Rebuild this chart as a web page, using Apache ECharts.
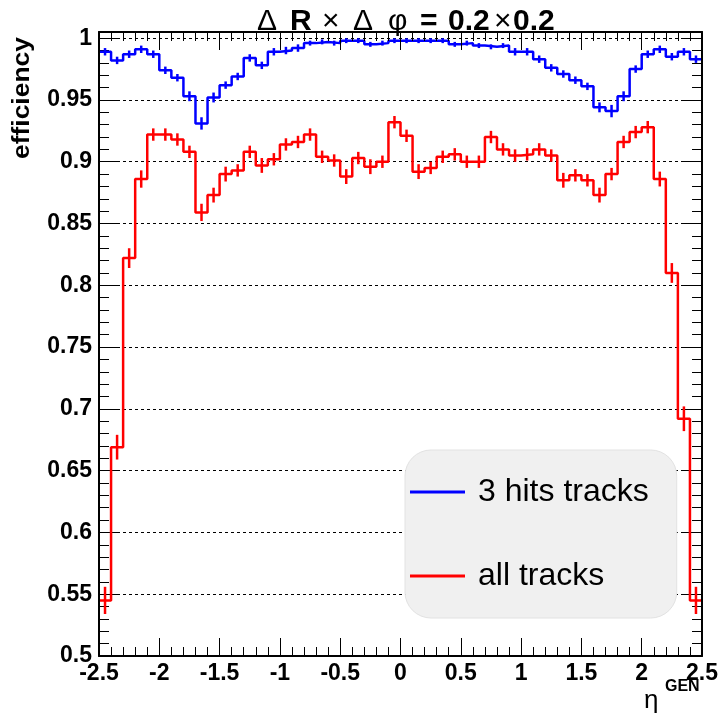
<!DOCTYPE html>
<html>
<head>
<meta charset="utf-8">
<script src="https://cdn.jsdelivr.net/npm/echarts@6/dist/echarts.min.js"></script>
<style>
  html, body { margin: 0; padding: 0; background: #ffffff; }
  #chart { width: 723px; height: 716px; }
</style>
</head>
<body>
<div id="chart"></div>
<script>
// Binning in eta: 50 bins of width 0.1 from -2.5 to 2.5
const etaLow = -2.5;
const etaBinWidth = 0.1;

// Efficiency per eta bin, tracks with 3 pixel hits
const hits3Eff = [
  0.989, 0.982, 0.987, 0.991, 0.987, 0.974, 0.968, 0.953, 0.931, 0.952,
  0.962, 0.969, 0.984, 0.978, 0.989, 0.990, 0.992, 0.996, 0.997, 0.996,
  0.998, 0.998, 0.995, 0.996, 0.998, 0.998, 0.998, 0.998, 0.998, 0.995,
  0.996, 0.994, 0.993, 0.994, 0.989, 0.989, 0.983, 0.976, 0.971, 0.966,
  0.961, 0.944, 0.941, 0.953, 0.975, 0.987, 0.991, 0.985, 0.989, 0.983
];
const hits3Err = [
  0.003, 0.003, 0.003, 0.003, 0.003, 0.003, 0.003, 0.004, 0.005, 0.004,
  0.003, 0.003, 0.003, 0.003, 0.003, 0.003, 0.003, 0.002, 0.002, 0.002,
  0.002, 0.002, 0.002, 0.002, 0.002, 0.002, 0.002, 0.002, 0.002, 0.002,
  0.002, 0.002, 0.002, 0.002, 0.003, 0.003, 0.003, 0.003, 0.003, 0.003,
  0.003, 0.004, 0.005, 0.004, 0.003, 0.003, 0.003, 0.003, 0.003, 0.003
];

// Efficiency per eta bin, all tracks
const allEff = [
  0.545, 0.669, 0.822, 0.886, 0.922, 0.922, 0.918, 0.908, 0.859, 0.873,
  0.890, 0.893, 0.908, 0.897, 0.902, 0.914, 0.916, 0.922, 0.904, 0.901,
  0.888, 0.903, 0.896, 0.900, 0.932, 0.921, 0.892, 0.895, 0.904, 0.906,
  0.900, 0.900, 0.920, 0.910, 0.905, 0.906, 0.910, 0.905, 0.885, 0.889,
  0.885, 0.873, 0.890, 0.916, 0.924, 0.928, 0.886, 0.810, 0.692, 0.545
];
const allErr = [
  0.011, 0.010, 0.008, 0.007, 0.005, 0.005, 0.005, 0.005, 0.007, 0.006,
  0.006, 0.005, 0.005, 0.006, 0.005, 0.005, 0.005, 0.005, 0.005, 0.005,
  0.006, 0.005, 0.006, 0.005, 0.005, 0.005, 0.006, 0.005, 0.005, 0.005,
  0.005, 0.005, 0.005, 0.005, 0.005, 0.005, 0.005, 0.005, 0.006, 0.005,
  0.005, 0.006, 0.005, 0.005, 0.005, 0.005, 0.006, 0.008, 0.010, 0.011
];

const seriesNames = ['3 hits tracks', 'all tracks'];
const seriesColors = ['#0000ff', '#ff0000'];

const yMin = 0.5, yMax = 1.005, yTop = 1.0;

// histogram outline: a flat segment across each bin
function histOutline(vals) {
  const pts = [];
  vals.forEach((v, i) => {
    const a = +(etaLow + i * etaBinWidth).toFixed(3);
    const b = +(etaLow + (i + 1) * etaBinWidth).toFixed(3);
    pts.push([a, v], [b, v]);
  });
  return pts;
}

// vertical error bar at each bin centre: [centre, low, high]
function errorData(vals, errs) {
  return vals.map((v, i) => [
    +(etaLow + (i + 0.5) * etaBinWidth).toFixed(3), v - errs[i], v + errs[i]
  ]);
}

function errorBarRenderer(color) {
  return function (params, api) {
    const p1 = api.coord([api.value(0), api.value(1)]);
    const p2 = api.coord([api.value(0), api.value(2)]);
    return {
      type: 'line',
      shape: { x1: p1[0], y1: p1[1], x2: p2[0], y2: p2[1] },
      style: { stroke: color, lineWidth: 2.5 }
    };
  };
}

const FONT = '"Liberation Sans", Arial, Helvetica, sans-serif';
const black = '#000000';

const gridLeft = 99, gridRight = 21, gridTop = 32, gridBottom = 60;
const plotH = 716 - gridTop - gridBottom;
// second grid carries the y ticks / labels / grid lines, ending at 1.0
const tickGridTop = gridTop + (yMax - yTop) / (yMax - yMin) * plotH;

const xTickAxis = (pos, showLabels) => ({
  type: 'value', gridIndex: 0, position: pos,
  min: -2.5, max: 2.5, interval: 0.5, z: 5,
  axisLine: { show: true, onZero: false, lineStyle: { color: black, width: 2 } },
  axisTick: { show: true, inside: true, length: 18, lineStyle: { color: black, width: 1 } },
  minorTick: { show: true, splitNumber: 5, length: 9, lineStyle: { color: black, width: 1 } },
  splitLine: { show: false },
  axisLabel: {
    show: showLabels, color: black, fontFamily: FONT, fontWeight: 'bold', fontSize: 23,
    margin: 6, showMinLabel: true, showMaxLabel: true
  }
});

const yFrameAxis = (pos) => ({
  type: 'value', gridIndex: 0, position: pos, min: yMin, max: yMax, z: 5,
  axisLine: { show: true, onZero: false, lineStyle: { color: black, width: 2 } },
  axisTick: { show: false }, axisLabel: { show: false }, splitLine: { show: false }
});

const yTickAxis = (pos, showLabels) => ({
  type: 'value', gridIndex: 1, position: pos, min: yMin, max: yTop, interval: 0.05,
  axisLine: { show: false, onZero: false },
  axisTick: { show: true, inside: true, length: 18, lineStyle: { color: black, width: 1 } },
  minorTick: { show: true, splitNumber: 5, length: 10, lineStyle: { color: black, width: 1 } },
  splitLine: { show: showLabels, lineStyle: { color: black, width: 1, type: [3, 3] } },
  axisLabel: {
    show: showLabels, color: black, fontFamily: FONT, fontWeight: 'bold', fontSize: 23,
    margin: 7, showMinLabel: true, showMaxLabel: true
  }
});

const titleFrag = (weight, width) => {
  const s = { fontFamily: FONT, fontSize: 30, fontWeight: weight, color: black };
  if (width) s.width = width;
  return s;
};

const chart = echarts.init(document.getElementById('chart'), null, { renderer: 'canvas' });

chart.setOption({
  animation: false,
  backgroundColor: '#ffffff',
  title: {
    left: 252, top: 2,
    text: '{d1|Δ}{r|R}{t1|×}{d2|Δ}{p|φ}{e|=}{n1|0.2}{t2|×}{n2|0.2}',
    textStyle: {
      rich: {
        d1: titleFrag('normal', 33),
        r: titleFrag('bold', 32),
        t1: titleFrag('normal', 31),
        d2: titleFrag('normal', 35),
        p: titleFrag('normal', 32),
        e: titleFrag('bold', 28),
        n1: titleFrag('bold', 46),
        t2: titleFrag('normal', 19),
        n2: titleFrag('bold')
      }
    }
  },
  grid: [
    { left: gridLeft, right: gridRight, top: gridTop, bottom: gridBottom, containLabel: false, outerBoundsMode: 'none' },
    { left: gridLeft, right: gridRight, top: tickGridTop, bottom: gridBottom, containLabel: false, outerBoundsMode: 'none' }
  ],
  xAxis: [
    xTickAxis('bottom', true),
    xTickAxis('top', false),
    { type: 'value', gridIndex: 1, min: -2.5, max: 2.5, show: false }
  ],
  yAxis: [
    yFrameAxis('left'),
    yFrameAxis('right'),
    yTickAxis('left', true),
    yTickAxis('right', false)
  ],
  legend: {
    data: [
      { name: seriesNames[0], icon: 'rect' },
      { name: seriesNames[1], icon: 'rect' }
    ],
    orient: 'vertical',
    left: 405, top: 450,
    padding: [22, 28, 22, 5],
    itemWidth: 55, itemHeight: 3, itemGap: 44,
    backgroundColor: '#f0f0f0', borderColor: '#e2e2e2', borderWidth: 1, borderRadius: 26,
    textStyle: { fontFamily: FONT, fontSize: 32, color: black, lineHeight: 40, padding: [0, 0, 0, 8] },
    selectedMode: false
  },
  graphic: [
    {
      type: 'text', x: 34, y: 37, rotation: Math.PI / 2, scaleX: 1.15,
      style: { text: 'efficiency', font: 'bold 23px ' + FONT, fill: black, align: 'right', verticalAlign: 'bottom' }
    },
    {
      type: 'text', x: 644, y: 688,
      style: { text: 'η', font: 'normal 26px ' + FONT, fill: black, align: 'left', verticalAlign: 'top' }
    },
    {
      type: 'text', x: 665, y: 679,
      style: { text: 'GEN', font: 'bold 16px ' + FONT, fill: black, align: 'left', verticalAlign: 'top' }
    }
  ],
  series: [
    {
      name: seriesNames[0], type: 'line', xAxisIndex: 0, yAxisIndex: 0,
      data: histOutline(hits3Eff), showSymbol: false, symbol: 'none',
      color: seriesColors[0], lineStyle: { color: seriesColors[0], width: 2.5 }, z: 2
    },
    {
      name: seriesNames[0] + ' errors', type: 'custom', xAxisIndex: 0, yAxisIndex: 0,
      data: errorData(hits3Eff, hits3Err), encode: { x: 0, y: [1, 2] },
      renderItem: errorBarRenderer(seriesColors[0]), z: 2
    },
    {
      name: seriesNames[1], type: 'line', xAxisIndex: 0, yAxisIndex: 0,
      data: histOutline(allEff), showSymbol: false, symbol: 'none',
      color: seriesColors[1], lineStyle: { color: seriesColors[1], width: 2.5 }, z: 3
    },
    {
      name: seriesNames[1] + ' errors', type: 'custom', xAxisIndex: 0, yAxisIndex: 0,
      data: errorData(allEff, allErr), encode: { x: 0, y: [1, 2] },
      renderItem: errorBarRenderer(seriesColors[1]), z: 3
    }
  ]
});
</script>
</body>
</html>
